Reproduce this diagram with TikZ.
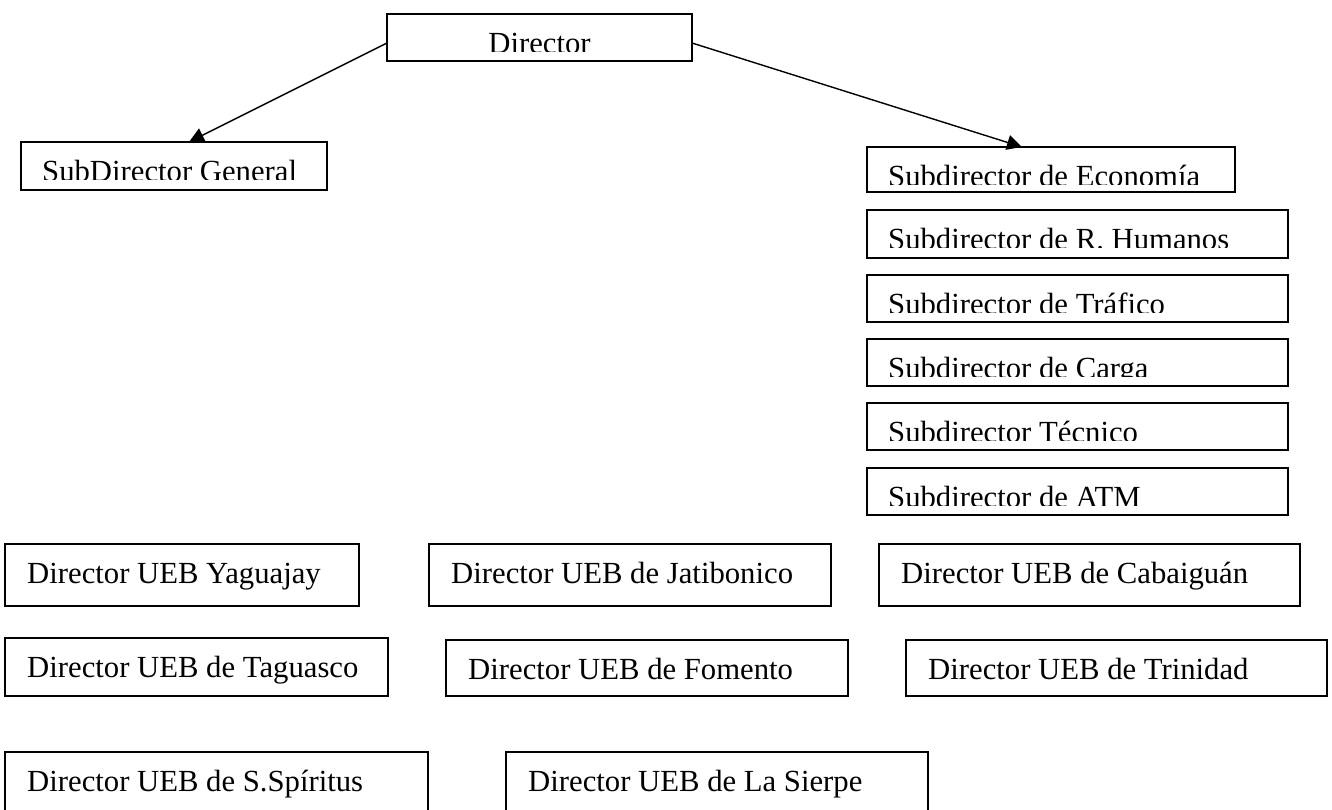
\documentclass[tikz,border=0pt]{standalone}
\usepackage{fontspec}
\setmainfont{Liberation Serif}
\usetikzlibrary{arrows.meta}
\newcommand\orgfont{\fontsize{30.7pt}{36pt}\selectfont}
\tikzset{
  orgbox/.style={draw=black, line width=1.7pt, anchor=north west, inner sep=0pt, outer sep=0pt},
  orgtext/.style={font=\orgfont, inner sep=0pt, anchor=base west},
  orgarrow/.style={line width=1.4pt, -{Triangle[length=15pt,width=15pt]}},
}
% box whose text is cut at the bottom: name, x, y, width, height, text
\newcommand\cutbox[6]{%
  \node[orgbox, minimum width=#4pt, minimum height=#5pt] (#1) at (#2,#3) {};
  \begin{scope}
    \clip (#1.north west) rectangle ([yshift=-37pt]#1.north east);
    \node[orgtext] (#1t) at ([xshift=21pt,yshift=-39pt]#1.north west) {#6};
  \end{scope}}
% box with full text: name, x, y, width, height, text
\newcommand\fullbox[6]{%
  \node[orgbox, minimum width=#4pt, minimum height=#5pt] (#1) at (#2,#3) {};
  \node[orgtext] (#1t) at ([xshift=22pt,yshift=-39pt]#1.north west) {#6};}
\begin{document}
\begin{tikzpicture}[x=1pt,y=-1pt]
\useasboundingbox (0,0) rectangle (1332,809);
\clip (0,0) rectangle (1332,809);

% Director
\node[orgbox, minimum width=305pt, minimum height=47pt] (dir) at (387,14) {};
\begin{scope}
  \clip (dir.north west) rectangle ([yshift=-37pt]dir.north east);
  \node[font=\orgfont, inner sep=0pt, anchor=base] (dirt) at ([yshift=-39pt]dir.north) {Director};
\end{scope}

% left
\cutbox{sub}{21}{142}{306}{48}{SubDirector General}

% right column
\cutbox{econ}{867}{147}{368}{45}{Subdirector de Economía}
\cutbox{hum}{867}{210}{421}{48}{Subdirector de R. Humanos}
\cutbox{tra}{867}{275}{421}{47}{Subdirector de Tráfico}
\cutbox{car}{867}{339}{421}{47}{Subdirector de Carga}
\cutbox{tec}{867}{403}{421}{47}{Subdirector Técnico}
\cutbox{atm}{867}{468}{421}{47}{Subdirector de ATM}

% UEB rows
\fullbox{yag}{5}{544}{354}{62}{Director UEB Yaguajay}
\fullbox{jat}{429}{544}{402}{62}{Director UEB de Jatibonico}
\fullbox{cab}{879}{544}{421}{62}{Director UEB de Cabaiguán}
\fullbox{tag}{5}{638}{383}{58}{Director UEB de Taguasco}
\fullbox{fom}{446}{640}{402}{56}{Director UEB de Fomento}
\fullbox{tri}{906}{640}{421}{56}{Director UEB de Trinidad}
\fullbox{ssp}{5}{752}{423}{80}{Director UEB de S.Spíritus}
\fullbox{sie}{506}{752}{422}{80}{Director UEB de La Sierpe}

% connectors
\draw[orgarrow] ([yshift=-5.5pt]dir.west) -- ([xshift=15pt]sub.north);
\draw[orgarrow] ([yshift=-5.5pt]dir.east) -- ([xshift=-29pt]econ.north);
\end{tikzpicture}
\end{document}
